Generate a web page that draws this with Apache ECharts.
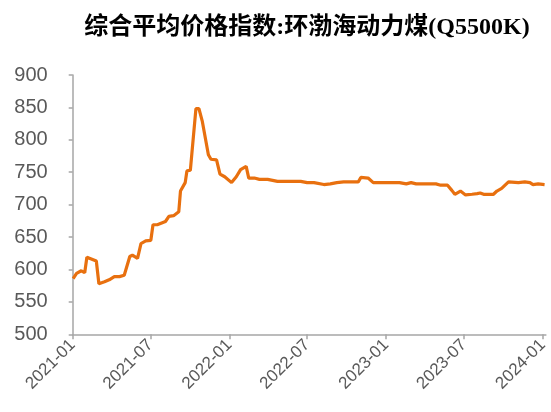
<!DOCTYPE html>
<html>
<head>
<meta charset="utf-8">
<script src="https://cdn.jsdelivr.net/npm/echarts@6/dist/echarts.min.js"></script>
<style>
  html, body { margin: 0; padding: 0; background: #ffffff; }
  #chart { width: 551px; height: 412px; }
</style>
</head>
<body>
<div id="chart"></div>
<script>
// Bohai-Rim steam coal (Q5500K) composite average price index, yuan/ton
const titleText = '综合平均价格指数:环渤海动力煤(Q5500K)';

const dates = [
  '2021-01-02', '2021-01-10', '2021-01-21', '2021-01-29', '2021-02-03', '2021-02-25',
  '2021-03-03', '2021-03-16', '2021-03-27', '2021-04-08', '2021-04-20', '2021-05-01',
  '2021-05-14', '2021-05-20', '2021-06-01', '2021-06-09', '2021-06-20', '2021-07-02',
  '2021-07-07', '2021-07-17', '2021-08-05', '2021-08-13', '2021-08-24', '2021-09-05',
  '2021-09-09', '2021-09-20', '2021-09-24', '2021-10-02', '2021-10-15', '2021-10-22',
  '2021-10-30', '2021-11-13', '2021-11-19', '2021-12-02', '2021-12-10', '2021-12-21',
  '2022-01-06', '2022-01-17', '2022-01-27', '2022-02-09', '2022-02-15', '2022-02-28',
  '2022-03-12', '2022-03-31', '2022-04-23', '2022-06-16', '2022-07-01', '2022-07-17',
  '2022-08-09', '2022-08-24', '2022-09-08', '2022-09-24', '2022-10-28', '2022-11-03',
  '2022-11-20', '2022-12-02', '2023-01-02', '2023-02-01', '2023-02-17', '2023-02-28',
  '2023-03-12', '2023-04-27', '2023-05-08', '2023-05-24', '2023-06-03', '2023-06-10',
  '2023-06-23', '2023-07-05', '2023-07-20', '2023-08-01', '2023-08-08', '2023-08-16',
  '2023-09-08', '2023-09-16', '2023-09-27', '2023-10-13', '2023-11-05', '2023-11-20',
  '2023-12-02', '2023-12-09', '2023-12-21', '2024-01-05'
];

const values = [
  586, 594, 598, 595, 619, 613,
  578, 581, 584, 589, 589, 591,
  620, 622, 617, 640, 644, 645,
  669, 669, 674, 682, 683, 689,
  721, 734, 752, 753, 848, 848,
  828, 777, 770, 769, 747, 743,
  734, 743, 754, 759, 741, 741,
  739, 739, 736, 736, 734, 734,
  731, 732, 734, 735, 735, 742,
  741, 734, 734, 734, 732, 734,
  732, 732, 730, 730, 722, 716,
  721, 715, 716, 717, 718, 716,
  716, 721, 725, 735, 734, 735,
  734, 731, 732, 731
];

// Tick dates shown on the date axis
const tickDates = ['2021-01-01', '2021-07-01', '2022-01-01', '2022-07-01', '2023-01-01', '2023-07-01', '2024-01-01'];
const yTicks = [500, 550, 600, 650, 700, 750, 800, 850, 900];

const toTime = d => +new Date(d + 'T00:00:00Z');
const tickTimes = tickDates.map(toTime);
const seriesData = dates.map((d, i) => [toTime(d), values[i]]);

const chart = echarts.init(document.getElementById('chart'), null, { renderer: 'canvas' });

const axisGray = '#a6a6a6';
const labelGray = '#595959';

chart.setOption({
  animation: false,
  backgroundColor: '#ffffff',
  title: {
    text: titleText,
    left: 302,
    textAlign: 'center',
    top: 11,
    textStyle: {
      fontFamily: "'Liberation Serif', 'Noto Sans CJK SC', serif",
      fontWeight: 'bold',
      fontSize: 24,
      color: '#000000'
    }
  },
  grid: {
    left: 72.7,
    right: 0,
    top: 75,
    bottom: 77.7,
    containLabel: false
  },
  xAxis: {
    type: 'value',
    min: tickTimes[0],
    max: toTime('2024-01-08'),
    axisLine: { show: true, lineStyle: { color: axisGray, width: 1.5 } },
    axisTick: {
      show: true,
      length: 5,
      lineStyle: { color: axisGray, width: 1.5 },
      customValues: tickTimes
    },
    axisLabel: {
      rotate: 45,
      fontFamily: "'Liberation Sans', Arial, sans-serif",
      fontSize: 17,
      color: labelGray,
      margin: 8,
      customValues: tickTimes,
      formatter: function (v) {
        const d = new Date(v);
        const m = d.getUTCMonth() + 1;
        return d.getUTCFullYear() + '-' + (m < 10 ? '0' + m : m);
      }
    },
    splitLine: { show: false }
  },
  yAxis: {
    type: 'value',
    min: yTicks[0],
    max: yTicks[yTicks.length - 1],
    interval: 50,
    axisLine: { show: true, lineStyle: { color: axisGray, width: 1.5 } },
    axisTick: { show: true, length: 4, lineStyle: { color: axisGray, width: 1.5 } },
    axisLabel: {
      fontFamily: "'Liberation Sans', Arial, sans-serif",
      fontSize: 20,
      color: labelGray,
      margin: 25
    },
    splitLine: { show: false }
  },
  series: [{
    type: 'line',
    data: seriesData,
    showSymbol: false,
    symbol: 'none',
    lineStyle: { color: '#E8700F', width: 3.2 },
    itemStyle: { color: '#E8700F' }
  }]
});
</script>
</body>
</html>
